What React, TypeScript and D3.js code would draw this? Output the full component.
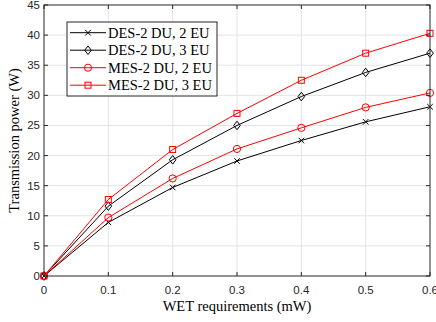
import React from 'react';
import * as d3 from 'd3';

// WET requirement (mW) and transmission power (W) per scheme
const wet = [0, 0.1, 0.2, 0.3, 0.4, 0.5, 0.6];
const des2du2eu = [0, 8.9, 14.7, 19.1, 22.5, 25.6, 28.1];
const des2du3eu = [0, 11.6, 19.3, 25.0, 29.8, 33.8, 37.0];
const mes2du2eu = [0, 9.7, 16.2, 21.1, 24.6, 28.0, 30.4];
const mes2du3eu = [0, 12.7, 21.0, 27.0, 32.5, 37.0, 40.3];
const seriesNames = ['DES-2 DU, 2 EU', 'DES-2 DU, 3 EU', 'MES-2 DU, 2 EU', 'MES-2 DU, 3 EU'];
const xTicks = [0, 0.1, 0.2, 0.3, 0.4, 0.5, 0.6];
const yTicks = [0, 5, 10, 15, 20, 25, 30, 35, 40, 45];

const W = 436;
const H = 322;
const left = 44, right = 430, top = 5, bottom = 276;
const axisColor = '#262626';
const serif = '"Liberation Serif", "Times New Roman", serif';
const sans = '"Liberation Sans", Arial, sans-serif';

const series = [
	{ name: seriesNames[0], values: des2du2eu, color: '#000000', marker: 'x' },
	{ name: seriesNames[1], values: des2du3eu, color: '#000000', marker: 'diamond' },
	{ name: seriesNames[2], values: mes2du2eu, color: '#ff0000', marker: 'circle' },
	{ name: seriesNames[3], values: mes2du3eu, color: '#ff0000', marker: 'square' },
];

const Marker = ({ type, x, y, color }: { type: string; x: number; y: number; color: string }) => {
	if (type === 'x') {
		const s = 2.8;
		return <path d={`M${x - s},${y - s}L${x + s},${y + s}M${x - s},${y + s}L${x + s},${y - s}`} stroke={color} strokeWidth={1} fill="none" />;
	}
	if (type === 'diamond') {
		return <path d={`M${x},${y - 4.3}L${x + 3.3},${y}L${x},${y + 4.3}L${x - 3.3},${y}Z`} stroke={color} strokeWidth={1} fill="none" />;
	}
	if (type === 'circle') {
		return <circle cx={x} cy={y} r={3.6} stroke={color} strokeWidth={1} fill="none" />;
	}
	return <rect x={x - 3} y={y - 3} width={6} height={6} stroke={color} strokeWidth={1} fill="none" />;
};

const App = () => {
	const xScale = d3.scaleLinear().domain([0, 0.6]).range([left, right]);
	const yScale = d3.scaleLinear().domain([0, 45]).range([bottom, top]);

	const line = d3.line<number>()
		.x((d, i) => xScale(wet[i]))
		.y(d => yScale(d));

	const legX = 67, legY = 22, legW = 150, legH = 74;
	const rowY = (i: number) => legY + 10.7 + i * 17.5;

	return (
		<svg width={W} height={H} style={{ position: 'absolute', left: 0, top: 0, background: '#fff' }}>
			<rect x={0} y={0} width={W} height={H} fill="#fff" />
			{/* grid */}
			{xTicks.slice(1, -1).map(t => (
				<line key={'gx' + t} x1={xScale(t)} x2={xScale(t)} y1={top} y2={bottom} stroke="#e3e3e3" strokeWidth={1} />
			))}
			{yTicks.slice(1, -1).map(t => (
				<line key={'gy' + t} x1={left} x2={right} y1={yScale(t)} y2={yScale(t)} stroke="#e3e3e3" strokeWidth={1} />
			))}

			{/* series */}
			{series.map(s => (
				<g key={s.name}>
					<path d={line(s.values) || ''} stroke={s.color} strokeWidth={1} fill="none" />
					{s.values.map((v, i) => (
						<Marker key={i} type={s.marker} x={xScale(wet[i])} y={yScale(v)} color={s.color} />
					))}
				</g>
			))}

			{/* axes box */}
			<rect x={left} y={top} width={right - left} height={bottom - top} fill="none" stroke={axisColor} strokeWidth={1} />
			{xTicks.map(t => (
				<g key={'tx' + t}>
					<line x1={xScale(t)} x2={xScale(t)} y1={bottom} y2={bottom - 4} stroke={axisColor} />
					<line x1={xScale(t)} x2={xScale(t)} y1={top} y2={top + 4} stroke={axisColor} />
					<text x={xScale(t)} y={bottom + 18} textAnchor="middle" fontFamily={sans} fontSize={11.5} fill={axisColor}>{t}</text>
				</g>
			))}
			{yTicks.map(t => (
				<g key={'ty' + t}>
					<line x1={left} x2={left + 4} y1={yScale(t)} y2={yScale(t)} stroke={axisColor} />
					<line x1={right} x2={right - 4} y1={yScale(t)} y2={yScale(t)} stroke={axisColor} />
					<text x={left - 4} y={yScale(t) + 4} textAnchor="end" fontFamily={sans} fontSize={11.5} fill={axisColor}>{t}</text>
				</g>
			))}

			{/* axis labels */}
			<text x={(left + right) / 2} y={311} textAnchor="middle" fontFamily={serif} fontSize={14.5} fill="#000">WET requirements (mW)</text>
			<text transform={`translate(19,${(top + bottom) / 2}) rotate(-90)`} textAnchor="middle" fontFamily={serif} fontSize={14.5} fill="#000">Transmission power (W)</text>

			{/* legend */}
			<rect x={legX} y={legY} width={legW} height={legH} fill="#fff" stroke={axisColor} strokeWidth={1} />
			{series.map((s, i) => (
				<g key={'leg' + i}>
					<line x1={legX + 3} x2={legX + 39} y1={rowY(i)} y2={rowY(i)} stroke={s.color} strokeWidth={1} />
					<Marker type={s.marker} x={legX + 21} y={rowY(i)} color={s.color} />
					<text x={legX + 41} y={rowY(i) + 5} fontFamily={serif} fontSize={14.5} fill="#000">{s.name}</text>
				</g>
			))}
		</svg>
	);
};

export default App;
